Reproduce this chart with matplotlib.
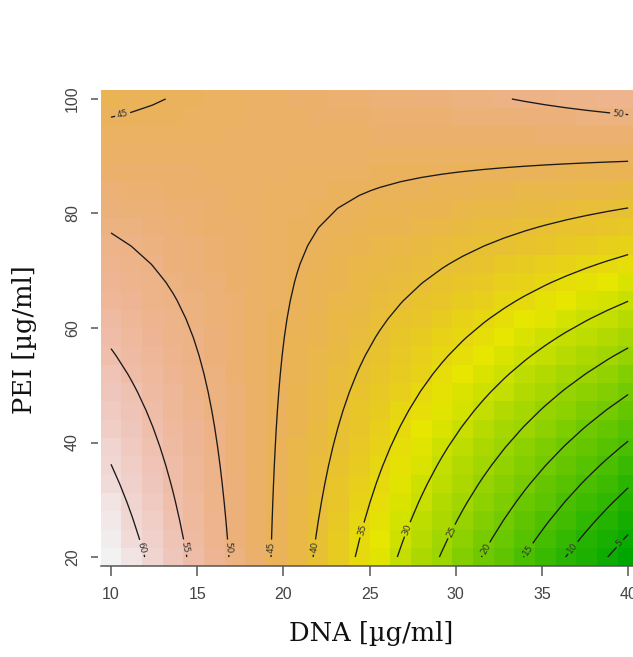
import colorsys

import numpy as np
import matplotlib
matplotlib.use("Agg")
import matplotlib.pyplot as plt
from matplotlib.colors import ListedColormap, Normalize

# fitted response surface (DNA x PEI interaction model)
INTERCEPT = 95.18
COEF_DNA = -2.622
COEF_PEI = -0.5346
COEF_DNA_PEI = 0.02871

DNA = np.linspace(10, 40, 26)     # µg/ml
PEI = np.linspace(20, 100, 26)    # µg/ml
LEVELS = [5, 10, 15, 20, 25, 30, 35, 40, 45, 50, 55, 60]
X_TICKS = [10, 15, 20, 25, 30, 35, 40]
Y_TICKS = [20, 40, 60, 80, 100]

# where each contour label sits (data coords)
LABEL_AT = [(11.8, 21.7), (14.2, 21.7), (16.8, 21.7), (19.4, 21.7), (21.9, 21.7),
            (24.6, 24.7), (27.3, 24.7), (29.8, 24.4), (31.8, 21.3), (34.2, 21.3),
            (36.8, 21.6), (39.5, 22.4), (10.7, 97.0), (39.4, 97.4)]

INK = "#444444"


def terrain_colors(n):
    # same construction as R's terrain.colors()
    k = n // 2
    m = n - k + 1
    h = np.r_[np.linspace(4 / 12, 2 / 12, k), np.linspace(2 / 12, 0, m)[1:]]
    s = np.r_[np.ones(k), np.linspace(1, 0, m)[1:]]
    v = np.r_[np.linspace(0.65, 0.9, k), np.linspace(0.9, 0.95, m)[1:]]
    return [colorsys.hsv_to_rgb(a, b, c) for a, b, c in zip(h, s, v)]


X, Y = np.meshgrid(DNA, PEI)
Z = INTERCEPT + COEF_DNA * X + COEF_PEI * Y + COEF_DNA_PEI * X * Y

fig = plt.figure(figsize=(6.33, 6.57), dpi=100)
# panel runs past the right edge of the canvas
ax = fig.add_axes([0.159, 0.1382, 0.8497, 0.7251])

cmap = ListedColormap(terrain_colors(100))
ax.pcolormesh(DNA, PEI, Z, shading="nearest", cmap=cmap,
              norm=Normalize(Z.min(), Z.max()), rasterized=True)
cs = ax.contour(X, Y, Z, levels=LEVELS, colors="#1a1a1a", linewidths=0.95)
ax.clabel(cs, fmt="%d", fontsize=6.5, colors="#333333", inline=True,
          inline_spacing=2, manual=LABEL_AT)

ax.set_xlim(9.4, 40.6)
ax.set_ylim(18.4, 101.6)

for side in ("top", "right"):
    ax.spines[side].set_visible(False)
ax.spines["left"].set_position(("outward", 2))
ax.spines["left"].set_visible(False)
ax.spines["bottom"].set_color("#555555")
ax.spines["bottom"].set_linewidth(1.1)

ax.set_xticks(X_TICKS)
ax.set_yticks(Y_TICKS)
ax.tick_params(axis="x", length=7, width=1.1, color="#555555", pad=8,
               labelsize=11.5, labelcolor=INK)
ax.tick_params(axis="y", length=5, width=1.1, color="#555555", pad=8,
               labelsize=11.5, labelcolor=INK)
for lab in ax.get_xticklabels() + ax.get_yticklabels():
    lab.set_family("Liberation Sans")
for lab in ax.get_yticklabels():
    lab.set_rotation(90)
    lab.set_va("center")

ax.set_xlabel("DNA [µg/ml]", family="DejaVu Serif", fontsize=18.5, color="#111111")
ax.set_ylabel("PEI [µg/ml]", family="DejaVu Serif", fontsize=18.5, color="#111111")
ax.xaxis.set_label_coords(0.5025, -0.115)
ax.yaxis.set_label_coords(-0.118, 0.475)

fig.savefig("out.png", dpi=100)
